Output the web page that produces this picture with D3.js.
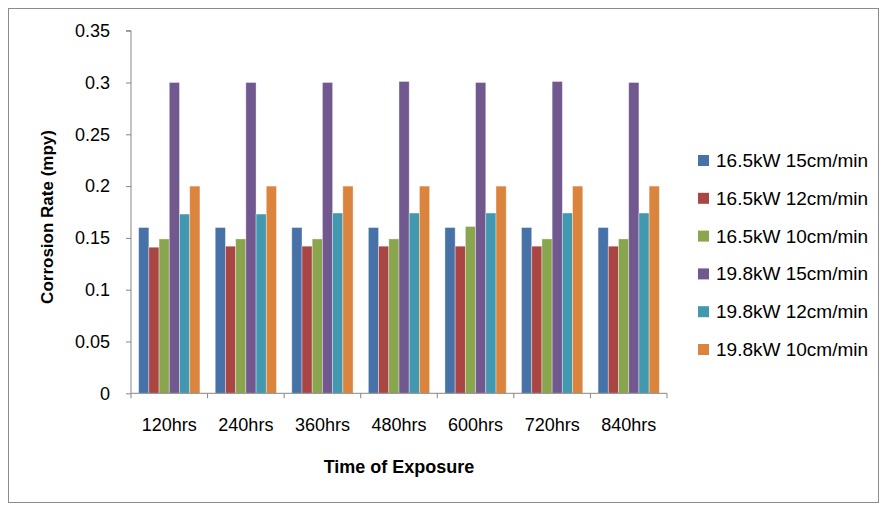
<!DOCTYPE html>
<html><head><meta charset="utf-8">
<script src="https://cdn.jsdelivr.net/npm/d3@7/dist/d3.min.js"></script>
<style>body{margin:0;background:#fff}svg{display:block}text{font-family:"Liberation Sans",Arial,sans-serif;fill:#000}</style>
</head><body><svg id="c" width="882" height="506"></svg>
<script>
const categories = ["120hrs","240hrs","360hrs","480hrs","600hrs","720hrs","840hrs"];
const seriesNames = ["16.5kW 15cm/min","16.5kW 12cm/min","16.5kW 10cm/min","19.8kW 15cm/min","19.8kW 12cm/min","19.8kW 10cm/min"];
const s1 = [0.16,0.16,0.16,0.16,0.16,0.16,0.16];
const s2 = [0.141,0.142,0.142,0.142,0.142,0.142,0.142];
const s3 = [0.149,0.149,0.149,0.149,0.161,0.149,0.149];
const s4 = [0.300,0.300,0.300,0.301,0.300,0.301,0.300];
const s5 = [0.173,0.173,0.174,0.174,0.174,0.174,0.174];
const s6 = [0.200,0.200,0.200,0.200,0.200,0.200,0.200];
const yTicks = [0,0.05,0.1,0.15,0.2,0.25,0.3,0.35];
const colors = ["#4672A8","#A94644","#89A54E","#71588F","#4198AF","#DB843D"];
const series = [s1,s2,s3,s4,s5,s6];

const svg = d3.select("#c");
svg.append("rect").attr("x",8.5).attr("y",8.5).attr("width",870).attr("height",494)
  .attr("fill","#fff").attr("stroke","#8c8c8c").attr("stroke-width",1);

const L=131, R=667, T=30.7, B=393.3;
const x0 = d3.scaleBand().domain(categories).range([L,R]).paddingInner(0).paddingOuter(0);
const innerW = x0.bandwidth();
const barW = innerW/(6+1.5);
const x1b = d3.scaleBand().domain(d3.range(6)).range([barW*0.75, innerW-barW*0.75]).padding(0);
const y = d3.scaleLinear().domain([0,0.35]).range([B,T]);

// bars
categories.forEach((c,i)=>{
  const g = svg.append("g").attr("transform",`translate(${x0(c)},0)`);
  series.forEach((s,k)=>{
    g.append("rect").attr("x",x1b(k)).attr("y",y(s[i])).attr("width",x1b.bandwidth())
      .attr("height",B-y(s[i])).attr("fill",colors[k])
      .attr("stroke","rgba(255,255,255,0.45)").attr("stroke-width",0.8);
  });
});

// y axis
const ya = svg.append("g").attr("transform",`translate(${L},0)`)
  .call(d3.axisLeft(y).tickValues(yTicks).tickSize(5).tickPadding(16).tickFormat(d=>String(+d.toFixed(2))));
ya.select(".domain").attr("stroke","#868686").attr("d",`M-5,${T}H0V${B}`);
ya.selectAll(".tick line").attr("stroke","#868686");
ya.selectAll("text").attr("font-size",18).style("font-family","Liberation Sans, Arial, sans-serif");

// x axis
const xa = svg.append("g").attr("transform",`translate(0,${B})`)
  .call(d3.axisBottom(x0).tickSize(0).tickPadding(25));
xa.select(".domain").attr("stroke","#868686").attr("d",`M${L},0H${R}`);
xa.selectAll("text").attr("font-size",18).style("font-family","Liberation Sans, Arial, sans-serif");
const edges = categories.map(c=>x0(c)).concat([R]);
svg.append("g").selectAll("line").data(edges).join("line")
  .attr("x1",d=>d).attr("x2",d=>d).attr("y1",B).attr("y2",B+5).attr("stroke","#868686");

// titles
svg.append("text").attr("x",399).attr("y",473).attr("text-anchor","middle")
  .attr("font-size",18).attr("font-weight","bold").style("font-family","Liberation Sans Narrow, Liberation Sans, Arial")
  .text("Time of Exposure");
svg.append("text").attr("transform","translate(53,217) rotate(-90)").attr("text-anchor","middle")
  .attr("font-size",17).attr("font-weight","bold").style("font-family","Liberation Sans Narrow, Liberation Sans, Arial")
  .text("Corrosion Rate (mpy)");

// legend
const lg = svg.append("g");
seriesNames.forEach((n,k)=>{
  const yy = 160 + k*37.8;
  lg.append("rect").attr("x",698).attr("y",yy-5).attr("width",11).attr("height",11).attr("fill",colors[k]);
  lg.append("text").attr("x",716).attr("y",yy+7).attr("font-size",19).text(n);
});
</script></body></html>
